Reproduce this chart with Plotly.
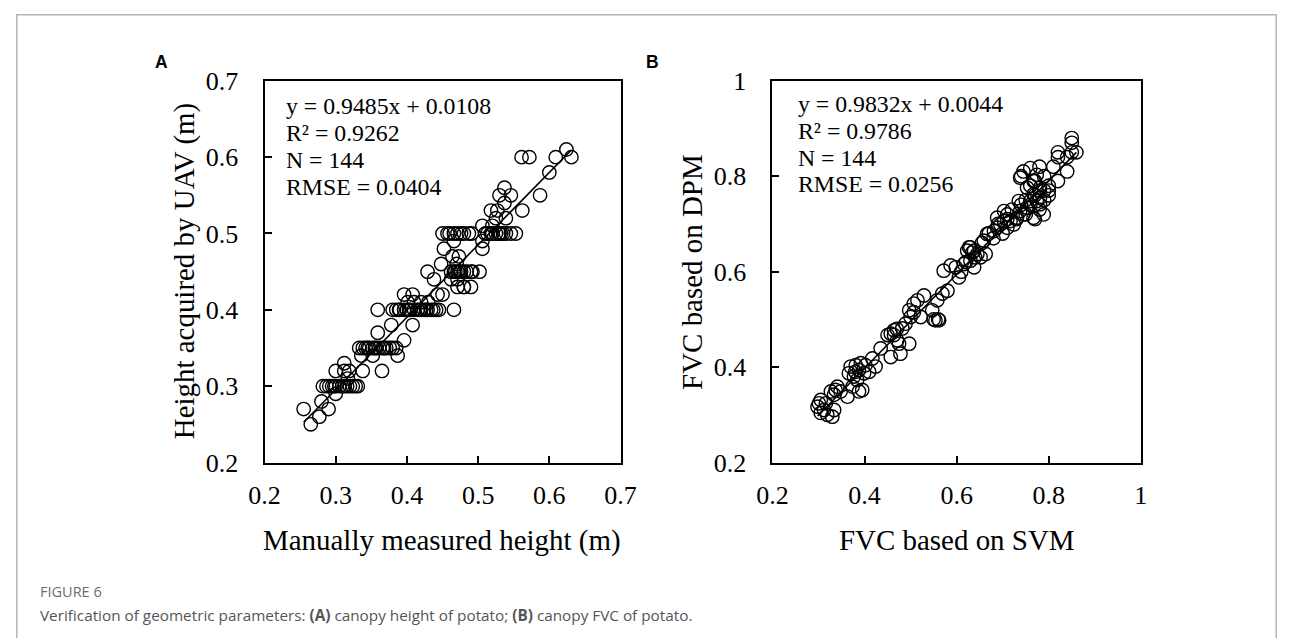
import plotly.graph_objects as go

W, H = 1293, 638

# ---------------- Data: panel A (canopy height) ----------------
a_manual = [
    0.255, 0.265, 0.277, 0.280, 0.290, 0.300,
    0.282, 0.287, 0.291, 0.295, 0.300, 0.305, 0.312, 0.316, 0.320, 0.324, 0.328, 0.331,
    0.312, 0.300, 0.312, 0.319, 0.317, 0.338, 0.365, 0.336, 0.352, 0.387,
    0.333, 0.338, 0.342, 0.347, 0.352, 0.357, 0.361, 0.366, 0.371, 0.376, 0.380, 0.385,
    0.359, 0.378, 0.396, 0.408,
    0.359, 0.380, 0.385, 0.389, 0.396, 0.403, 0.410, 0.415, 0.420, 0.424, 0.429, 0.434, 0.441, 0.445, 0.466,
    0.396, 0.408, 0.401, 0.410, 0.443, 0.450,
    0.471, 0.480, 0.490,
    0.438, 0.462, 0.471,
    0.429, 0.462, 0.466, 0.471, 0.476, 0.480, 0.492, 0.502,
    0.448, 0.464, 0.473, 0.452, 0.506, 0.466, 0.506,
    0.450, 0.457, 0.466, 0.471, 0.480, 0.487, 0.491, 0.513, 0.518, 0.525, 0.532, 0.539, 0.546, 0.553,
    0.506, 0.520, 0.525, 0.539, 0.518, 0.527, 0.537, 0.530, 0.546, 0.537, 0.562, 0.587, 0.600, 0.609, 0.624, 0.631, 0.561, 0.572,
    0.400, 0.405, 0.418, 0.427, 0.437,
    0.345, 0.355, 0.368,
    0.468, 0.474, 0.484,
    0.460, 0.476, 0.520, 0.529, 0.535,
    0.298, 0.309,
    0.390, 0.420, 0.430, 0.470, 0.480, 0.490, 0.510, 0.530,
]
a_uav = [
    0.27, 0.25, 0.26, 0.28, 0.27, 0.29,
    0.30, 0.30, 0.30, 0.30, 0.30, 0.30, 0.30, 0.30, 0.30, 0.30, 0.30, 0.30,
    0.33, 0.32, 0.32, 0.32, 0.31, 0.32, 0.32, 0.34, 0.34, 0.34,
    0.35, 0.35, 0.35, 0.35, 0.35, 0.35, 0.35, 0.35, 0.35, 0.35, 0.35, 0.35,
    0.37, 0.38, 0.36, 0.38,
    0.40, 0.40, 0.40, 0.40, 0.40, 0.40, 0.40, 0.40, 0.40, 0.40, 0.40, 0.40, 0.40, 0.40, 0.40,
    0.42, 0.42, 0.41, 0.41, 0.42, 0.42,
    0.43, 0.43, 0.43,
    0.44, 0.44, 0.44,
    0.45, 0.45, 0.45, 0.45, 0.45, 0.45, 0.45, 0.45,
    0.46, 0.47, 0.47, 0.48, 0.48, 0.49, 0.49,
    0.50, 0.50, 0.50, 0.50, 0.50, 0.50, 0.50, 0.50, 0.50, 0.50, 0.50, 0.50, 0.50, 0.50,
    0.51, 0.51, 0.52, 0.52, 0.53, 0.53, 0.54, 0.55, 0.55, 0.56, 0.53, 0.55, 0.58, 0.60, 0.61, 0.60, 0.60, 0.60,
    0.40, 0.40, 0.40, 0.40, 0.40,
    0.35, 0.35, 0.35,
    0.45, 0.45, 0.45,
    0.50, 0.50, 0.50, 0.50, 0.50,
    0.30, 0.30,
    0.40, 0.41, 0.41, 0.46, 0.43, 0.45, 0.50, 0.50,
]
a_slope, a_intercept = 0.9485, 0.0108
a_stats = ["y = 0.9485x + 0.0108", "R² = 0.9262", "N = 144", "RMSE = 0.0404"]

# ---------------- Data: panel B (canopy FVC) ----------------
b_svm = [
    0.305, 0.298, 0.312, 0.319, 0.305, 0.334, 0.330, 0.316, 0.301,
    0.337, 0.327, 0.341, 0.348, 0.334, 0.363,
    0.370, 0.381, 0.392, 0.402, 0.388, 0.399, 0.377, 0.384, 0.395, 0.388, 0.374, 0.410, 0.424, 0.366,
    0.417, 0.435, 0.457, 0.478, 0.497, 0.475, 0.464, 0.450, 0.464, 0.482, 0.489, 0.471, 0.457,
    0.497, 0.507, 0.515, 0.529, 0.507, 0.500, 0.522,
    0.547, 0.554, 0.562, 0.558, 0.569, 0.580,
    0.572, 0.587, 0.598, 0.605, 0.616, 0.630, 0.638, 0.627, 0.634,
    0.623, 0.630, 0.638, 0.645, 0.659, 0.666, 0.652, 0.663,
    0.681, 0.688, 0.695, 0.703, 0.710, 0.688, 0.703,
    0.710, 0.717, 0.724, 0.731, 0.738, 0.745, 0.753, 0.760, 0.767, 0.774, 0.781, 0.767, 0.774, 0.760, 0.781, 0.753, 0.738, 0.745, 0.735, 0.789, 0.781, 0.767,
    0.850, 0.850, 0.860, 0.850, 0.820, 0.820, 0.840, 0.810, 0.780, 0.790, 0.800, 0.800, 0.820, 0.800, 0.790, 0.780, 0.770, 0.840, 0.780, 0.770, 0.740, 0.760,
    0.655, 0.670, 0.690, 0.710, 0.720, 0.740, 0.750, 0.760, 0.770, 0.790, 0.750, 0.730, 0.700, 0.680, 0.620, 0.640, 0.610, 0.560, 0.550, 0.470, 0.380,
]
b_dpm = [
    0.331, 0.317, 0.310, 0.300, 0.304, 0.310, 0.296, 0.324, 0.324,
    0.352, 0.349, 0.359, 0.349, 0.342, 0.338,
    0.401, 0.404, 0.408, 0.404, 0.394, 0.387, 0.380, 0.373, 0.352, 0.349, 0.359, 0.390, 0.401, 0.387,
    0.418, 0.439, 0.421, 0.428, 0.449, 0.449, 0.467, 0.467, 0.477, 0.481, 0.491, 0.456, 0.470,
    0.519, 0.533, 0.540, 0.550, 0.515, 0.505, 0.505,
    0.519, 0.498, 0.498, 0.540, 0.554, 0.560,
    0.602, 0.613, 0.609, 0.588, 0.616, 0.623, 0.609, 0.651, 0.640,
    0.644, 0.651, 0.644, 0.637, 0.665, 0.679, 0.630, 0.637,
    0.685, 0.692, 0.699, 0.706, 0.720, 0.713, 0.727,
    0.692, 0.706, 0.699, 0.713, 0.727, 0.720, 0.734, 0.748, 0.762, 0.748, 0.755, 0.790, 0.803, 0.817, 0.776, 0.776, 0.797, 0.810, 0.748, 0.720, 0.741, 0.713,
    0.880, 0.870, 0.850, 0.850, 0.850, 0.840, 0.840, 0.820, 0.820, 0.800, 0.780, 0.770, 0.790, 0.760, 0.750, 0.730, 0.710, 0.810, 0.770, 0.790, 0.800, 0.780,
    0.660, 0.680, 0.700, 0.710, 0.730, 0.740, 0.750, 0.740, 0.760, 0.770, 0.720, 0.710, 0.680, 0.670, 0.620, 0.630, 0.600, 0.500, 0.500, 0.480, 0.390,
]
b_slope, b_intercept = 0.9832, 0.0044
b_stats = ["y = 0.9832x + 0.0044", "R² = 0.9786", "N = 144", "RMSE = 0.0256"]

a_ticks = [0.2, 0.3, 0.4, 0.5, 0.6, 0.7]
a_ticktext = ["0.2", "0.3", "0.4", "0.5", "0.6", "0.7"]
b_ticks = [0.2, 0.4, 0.6, 0.8, 1.0]
b_ticktext = ["0.2", "0.4", "0.6", "0.8", "1"]

# ---------------- Geometry helpers ----------------
# The captured picture maps page pixels (x, y) to roughly (0.976x + 18, 0.959y + 12.4);
# layout positions below are given in picture pixels and converted back to page pixels.
SX, OX, SY, OY = 0.976, 18.0, 0.959, 12.4

def fx(X):  # picture x -> paper fraction
    return ((X - OX) / SX) / W

def fy(Y):  # picture y -> paper fraction
    return 1 - ((Y - OY) / SY) / H

def fs(size):  # picture font size -> page font size
    return size / ((SX + SY) / 2)

SERIF = "Liberation Serif, Times New Roman, serif"
SANS = "Open Sans, Noto Sans, Arial, sans-serif"
ARIAL = "Liberation Sans, Arial, sans-serif"

fig = go.Figure()

marker = dict(symbol="circle-open", size=13.4, color="black", line=dict(width=1.4, color="black"))

fig.add_trace(go.Scatter(x=a_manual, y=a_uav, mode="markers", marker=marker,
                         xaxis="x", yaxis="y", showlegend=False, hoverinfo="skip"))
ax0, ax1 = min(a_manual), max(a_manual)
fig.add_trace(go.Scatter(x=[ax0, ax1], y=[a_slope * ax0 + a_intercept, a_slope * ax1 + a_intercept],
                         mode="lines", line=dict(color="black", width=1.6),
                         xaxis="x", yaxis="y", showlegend=False, hoverinfo="skip"))

fig.add_trace(go.Scatter(x=b_svm, y=b_dpm, mode="markers", marker=marker,
                         xaxis="x2", yaxis="y2", showlegend=False, hoverinfo="skip"))
bx0, bx1 = min(b_svm), max(b_svm)
fig.add_trace(go.Scatter(x=[bx0, bx1], y=[b_slope * bx0 + b_intercept, b_slope * bx1 + b_intercept],
                         mode="lines", line=dict(color="black", width=1.6),
                         xaxis="x2", yaxis="y2", showlegend=False, hoverinfo="skip"))

axis_common = dict(showgrid=False, zeroline=False, showline=True, linecolor="black", linewidth=2,
                   mirror=True, ticks="inside", ticklen=7, tickwidth=2, tickcolor="black",
                   tickfont=dict(family=SERIF, size=26, color="black"))

ydom = [fy(463), fy(79.5)]
fig.update_layout(
    width=W, height=H,
    margin=dict(l=0, r=0, t=0, b=0),
    paper_bgcolor="white", plot_bgcolor="white",
    xaxis=dict(domain=[fx(266.7), fx(623)], range=[0.2, 0.7], tickvals=a_ticks, ticktext=a_ticktext,
               anchor="y", ticklabelstandoff=8, **axis_common),
    yaxis=dict(domain=ydom, range=[0.2, 0.7], tickvals=a_ticks, ticktext=a_ticktext,
               anchor="x", ticklabelstandoff=19, **axis_common),
    xaxis2=dict(domain=[fx(775), fx(1143.7)], range=[0.2, 1.0], tickvals=b_ticks, ticktext=b_ticktext,
                anchor="y2", ticklabelstandoff=8, **axis_common),
    yaxis2=dict(domain=ydom, range=[0.2, 1.0], tickvals=b_ticks, ticktext=b_ticktext,
                anchor="x2", ticklabelstandoff=19, **axis_common),
    hovermode=False,
)

ann = []
title_font = dict(family=SERIF, size=fs(28), color="black")
ann.append(dict(text="Manually measured height (m)", x=fx(444.8), y=fy(541), xref="paper", yref="paper",
                showarrow=False, xanchor="center", yanchor="middle", font=title_font))
ann.append(dict(text="FVC based on SVM", x=fx(959.3), y=fy(541), xref="paper", yref="paper",
                showarrow=False, xanchor="center", yanchor="middle", font=title_font))
ann.append(dict(text="Height acquired by UAV (m)", x=fx(187), y=fy(271), xref="paper", yref="paper",
                showarrow=False, xanchor="center", yanchor="middle", textangle=-90, font=title_font))
ann.append(dict(text="FVC based on DPM", x=fx(695), y=fy(271), xref="paper", yref="paper",
                showarrow=False, xanchor="center", yanchor="middle", textangle=-90, font=title_font))

stat_font = dict(family=SERIF, size=fs(23), color="black")
a_stat_y = [105, 131.7, 159, 186]
b_stat_y = [103, 130, 157, 183]
for t, yy in zip(a_stats, a_stat_y):
    ann.append(dict(text=t, x=fx(286), y=fy(yy), xref="paper", yref="paper", showarrow=False,
                    xanchor="left", yanchor="middle", font=stat_font))
for t, yy in zip(b_stats, b_stat_y):
    ann.append(dict(text=t, x=fx(799), y=fy(yy), xref="paper", yref="paper", showarrow=False,
                    xanchor="left", yanchor="middle", font=stat_font))

# panel letters
ann.append(dict(text="<b>A</b>", x=fx(155), y=fy(61), xref="paper", yref="paper", showarrow=False,
                xanchor="left", yanchor="middle", font=dict(family=ARIAL, size=17.5, color="black")))
ann.append(dict(text="<b>B</b>", x=fx(646), y=fy(61), xref="paper", yref="paper", showarrow=False,
                xanchor="left", yanchor="middle", font=dict(family=ARIAL, size=17.5, color="black")))

# caption (kept inside the page)
ann.append(dict(text="FIGURE 6", x=fx(40), y=1 - 605 / H, xref="paper", yref="paper", showarrow=False,
                xanchor="left", yanchor="middle", font=dict(family=SANS, size=14.5, color="#6d6d6d")))
ann.append(dict(text="Verification of geometric parameters: <b>(A)</b> canopy height of potato; <b>(B)</b> canopy FVC of potato.",
                x=fx(40), y=1 - 630 / H, xref="paper", yref="paper", showarrow=False,
                xanchor="left", yanchor="middle", font=dict(family=SANS, size=15.3, color="#555555")))

fig.update_layout(annotations=ann)

# outer frame
fig.add_shape(type="rect", xref="paper", yref="paper", x0=0.8 / W, y0=-0.1, x1=1 - 0.8 / W, y1=1 - 0.8 / H,
              line=dict(color="#b5b5b5", width=1.5), fillcolor="rgba(0,0,0,0)", layer="below")

fig.write_html("out.html", config={"displayModeBar": False},
               post_script="document.body.style.margin='0px';document.body.style.overflow='hidden';")
